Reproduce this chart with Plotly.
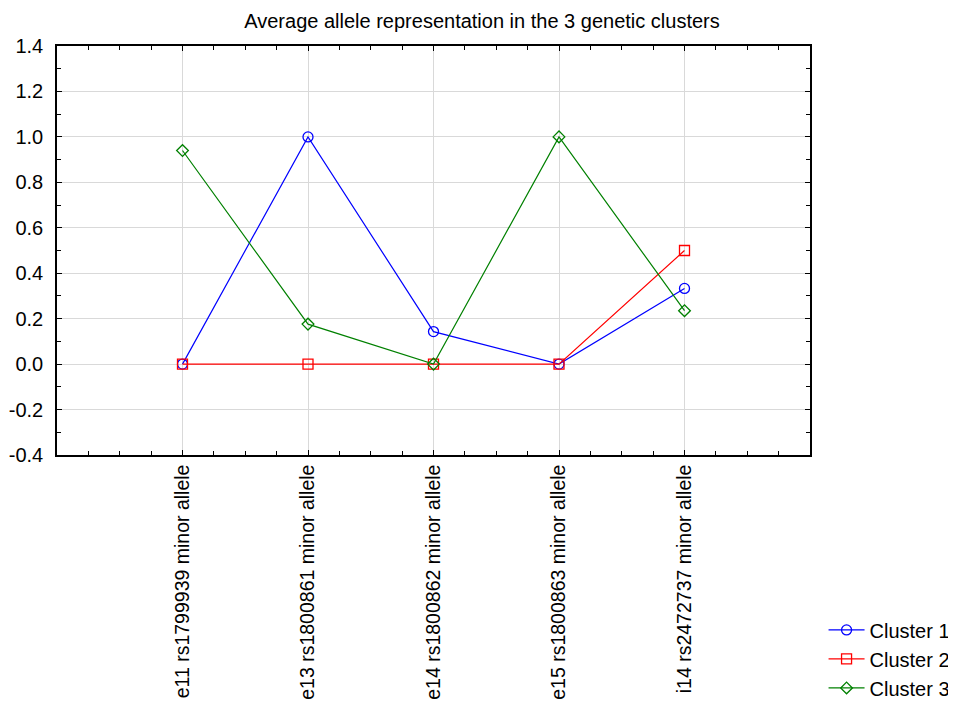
import plotly.graph_objects as go

categories = [
    "e11 rs1799939 minor allele",
    "e13 rs1800861 minor allele",
    "e14 rs1800862 minor allele",
    "e15 rs1800863 minor allele",
    "i14 rs2472737 minor allele",
]
cluster1 = [0.0, 1.0, 0.143, 0.0, 0.333]
cluster2 = [0.0, 0.0, 0.0, 0.0, 0.5]
cluster3 = [0.94, 0.176, 0.0, 1.0, 0.235]
y_ticks = [-0.4, -0.2, 0.0, 0.2, 0.4, 0.6, 0.8, 1.0, 1.2, 1.4]
y_tick_labels = [f"{v:.1f}" for v in y_ticks]

xpos = list(range(len(categories)))
font = "Liberation Sans, Arial, sans-serif"

fig = go.Figure()
series = [
    ("Cluster 1", cluster1, "#0000ff", "circle-open", 10),
    ("Cluster 2", cluster2, "#ff0000", "square-open", 10),
    ("Cluster 3", cluster3, "#008000", "diamond-open", 9),
]
for name, vals, col, sym, sz in series:
    fig.add_trace(go.Scatter(
        x=xpos, y=vals, name=name, mode="lines+markers",
        line=dict(color=col, width=1.2),
        marker=dict(symbol=sym, size=sz, color=col, line=dict(color=col, width=1.3)),
    ))

fig.update_layout(
    width=948, height=698,
    margin=dict(l=49, r=146, t=38, b=251, autoexpand=False),
    paper_bgcolor="white", plot_bgcolor="white",
    font=dict(family=font, size=20, color="black"),
    title=dict(text="Average allele representation in the 3 genetic clusters",
               x=0.5, xanchor="center", y=1 - 13 / 698, yanchor="middle",
               font=dict(size=20, color="black")),
    legend=dict(x=1.018, y=-0.38, xanchor="left", yanchor="top",
                bgcolor="rgba(0,0,0,0)", font=dict(size=20),
                tracegroupgap=0, itemwidth=36),
    showlegend=True,
)
fig.update_xaxes(
    range=[-1, 5], tickmode="array", tickvals=xpos, ticktext=categories,
    tickangle=-90, showgrid=True, gridcolor="#d9d9d9", gridwidth=1,
    showline=True, linecolor="black", linewidth=1.5, mirror="ticks",
    ticks="inside", ticklen=5, tickcolor="black", zeroline=False, automargin=False,
    minor=dict(dtick=0.25, tick0=0, ticks="inside", ticklen=4, tickcolor="black", showgrid=False),
    tickfont=dict(size=19.5),
)
fig.update_yaxes(
    range=[-0.4, 1.4], tickmode="array", tickvals=y_ticks, ticktext=y_tick_labels,
    showgrid=True, gridcolor="#d9d9d9", gridwidth=1,
    showline=True, linecolor="black", linewidth=1.5, mirror="ticks",
    ticks="inside", ticklen=5, tickcolor="black", zeroline=False, automargin=False,
    minor=dict(dtick=0.1, tick0=0, ticks="inside", ticklen=4, tickcolor="black", showgrid=False),
    tickfont=dict(size=20), ticklabelstandoff=8,
)
fig.write_html("out.html")
